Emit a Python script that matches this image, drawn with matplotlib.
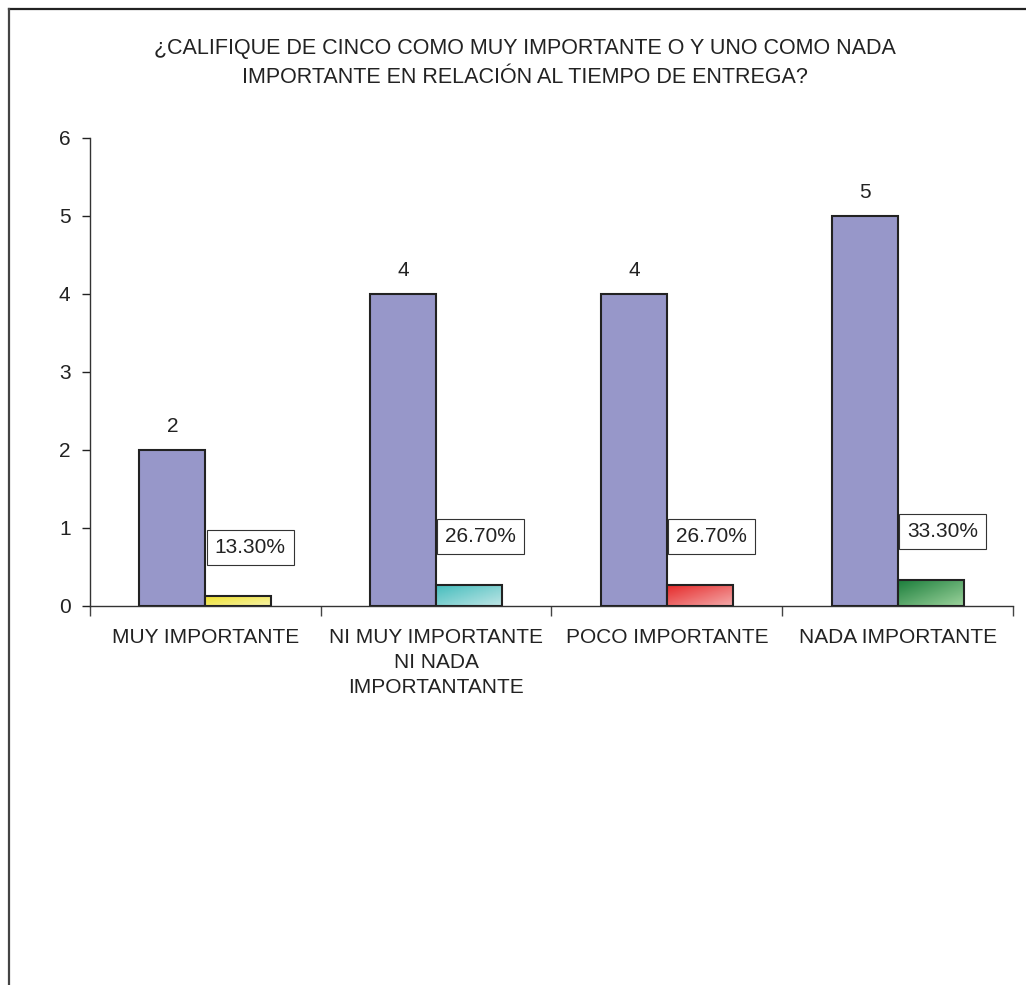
"""
Tiempo de entrega - barras agrupadas con porcentaje
"""
import matplotlib
matplotlib.use('Agg')
import matplotlib.pyplot as plt
import numpy as np
from matplotlib.colors import LinearSegmentedColormap
from matplotlib.lines import Line2D

plt.rcParams['font.family'] = ['Liberation Sans', 'DejaVu Sans']

TITLE = ('¿CALIFIQUE DE CINCO COMO MUY IMPORTANTE O Y UNO COMO NADA\n'
         'IMPORTANTE EN RELACIÓN AL TIEMPO DE ENTREGA?')
categorias = ['MUY IMPORTANTE', 'NI MUY IMPORTANTE\nNI NADA\nIMPORTANTANTE',
              'POCO IMPORTANTE', 'NADA IMPORTANTE']
frecuencia = [2, 4, 4, 5]
porcentaje = [0.133, 0.267, 0.267, 0.333]
etiquetas_pct = ['13.30%', '26.70%', '26.70%', '33.30%']
# degradado: (oscuro, claro)
gradientes = [('#eee02a', '#f7f3a8'), ('#45bdbd', '#bfe6e6'),
              ('#e62a2a', '#f4aaaa'), ('#1c7e3c', '#9cd39c')]

FS = 15

fig = plt.figure(figsize=(10.26, 9.85), dpi=100)
ax = fig.add_axes([0.0877, 0.3848, 0.8996, 0.4751])

x = np.arange(len(categorias))
w = 0.286

ax.bar(x - w / 2, frecuencia, width=w, color='#9797c9', edgecolor='#222',
       linewidth=1.5, zorder=3)
bars2 = ax.bar(x + w / 2, porcentaje, width=w, color='none', edgecolor='#222',
               linewidth=1.5, zorder=4)

# relleno con degradado diagonal
gy, gx = np.mgrid[0:1:64j, 0:1:64j]
grad = (gx + gy) / 2
for bar, (c0, c1) in zip(bars2, gradientes):
    cmap = LinearSegmentedColormap.from_list('g', [c0, c1])
    bx, by = bar.get_x(), bar.get_y()
    im = ax.imshow(grad, cmap=cmap, extent=[bx, bx + bar.get_width(), by, by + bar.get_height()],
                   origin='upper', aspect='auto', zorder=3.5, interpolation='bilinear')
    im.set_clip_path(bar)

# etiquetas de valores
for xi, v in zip(x, frecuencia):
    ax.annotate(str(v), (xi - w / 2, v), xytext=(0, 10), textcoords='offset points',
                ha='center', va='bottom', fontsize=FS, color='#222')
for xi, v, t in zip(x, porcentaje, etiquetas_pct):
    ax.annotate(t, (xi + 0.01, v), xytext=(5, 28), textcoords='offset points',
                ha='left', va='bottom', fontsize=FS, color='#222', zorder=6,
                bbox=dict(boxstyle='square,pad=0.38', facecolor='white',
                          edgecolor='#333', linewidth=0.8))

ax.set_xlim(-0.5, len(categorias) - 0.5)
ax.set_ylim(0, 6)
ax.set_yticks(range(7))
ax.tick_params(axis='y', labelsize=FS, length=6, width=1, colors='#222', pad=8)
ax.set_xticks(np.arange(-0.5, len(categorias), 1.0))
ax.set_xticklabels([])
ax.set_xticks(x, minor=True)
ax.set_xticklabels(categorias, minor=True, fontsize=FS, color='#222', linespacing=1.38)
ax.tick_params(axis='x', which='minor', length=0, pad=16)
ax.tick_params(axis='x', which='major', length=7, width=1, colors='#444')
for s in ['top', 'right']:
    ax.spines[s].set_visible(False)
for s in ['left', 'bottom']:
    ax.spines[s].set_color('#333')
    ax.spines[s].set_linewidth(1)

fig.text(0.512, 0.936, TITLE, ha='center', va='center', fontsize=15.5,
         color='#222', linespacing=1.48)

# marco del gráfico (solo borde superior e izquierdo visibles)
fig.add_artist(Line2D([0.0088, 1.0], [0.9909, 0.9909], transform=fig.transFigure,
                      color='#222', linewidth=1.6))
fig.add_artist(Line2D([0.0088, 0.0088], [0.0, 0.9909], transform=fig.transFigure,
                      color='#444', linewidth=1.6))

fig.savefig('out.png', dpi=100)
plt.close(fig)
